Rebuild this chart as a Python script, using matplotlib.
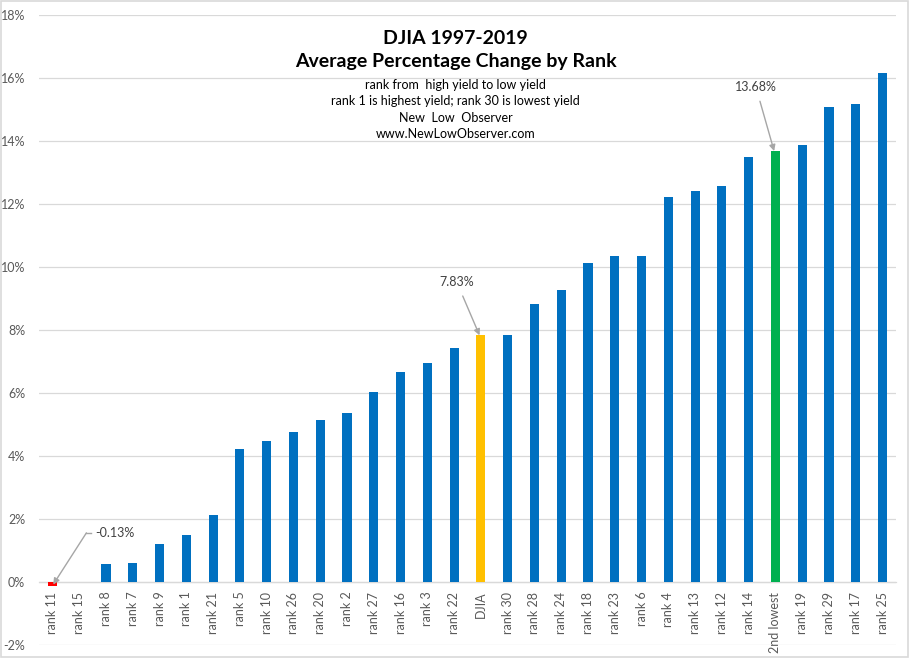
import matplotlib.pyplot as plt
import numpy as np
from matplotlib.patches import Rectangle

plt.rcParams['font.family'] = ['Lato', 'DejaVu Sans']

# Data (average % change, 1997-2019)
labels = ['rank 11', 'rank 15', 'rank 8', 'rank 7', 'rank 9', 'rank 1', 'rank 21',
          'rank 5', 'rank 10', 'rank 26', 'rank 20', 'rank 2', 'rank 27', 'rank 16',
          'rank 3', 'rank 22', 'DJIA', 'rank 30', 'rank 28', 'rank 24', 'rank 18',
          'rank 23', 'rank 6', 'rank 4', 'rank 13', 'rank 12', 'rank 14',
          '2nd lowest', 'rank 19', 'rank 29', 'rank 17', 'rank 25']
values = [-0.13, 0.0, 0.57, 0.60, 1.21, 1.49, 2.13,
          4.22, 4.48, 4.76, 5.14, 5.37, 6.03, 6.67,
          6.95, 7.43, 7.83, 7.84, 8.83, 9.27, 10.13,
          10.35, 10.35, 12.22, 12.41, 12.57, 13.49,
          13.68, 13.87, 15.08, 15.17, 16.16]
yticks = np.arange(-2, 19, 2)

# colour by category
colors = []
for lab, v in zip(labels, values):
    if lab == 'DJIA':
        colors.append('#ffc000')
    elif lab == '2nd lowest':
        colors.append('#00b050')
    elif v < 0:
        colors.append('#ff0000')
    else:
        colors.append('#0070c0')

fig = plt.figure(figsize=(9.11, 6.61), dpi=100)
ax = fig.add_axes([39 / 911, 16 / 661, (896 - 39) / 911, (645 - 15) / 661])

# axis line sits at zero (do this before setting tick labels)
for s in ['top', 'right', 'left']:
    ax.spines[s].set_visible(False)
ax.spines['bottom'].set_position(('data', 0))
ax.spines['bottom'].set_color('#d9d9d9')
ax.spines['bottom'].set_linewidth(0.9)

x = np.arange(len(labels))
ax.bar(x, values, width=0.34, color=colors, zorder=3)

ax.set_xlim(-0.5, len(labels) - 0.5)
ax.set_ylim(-2, 18)
ax.set_yticks(yticks)
ax.set_yticklabels(['%d%%' % t for t in yticks], fontsize=9, color='#595959')
ax.set_xticks(x)
ax.set_xticklabels(labels, rotation=90, fontsize=9, color='#595959')
ax.tick_params(axis='x', length=0, pad=7)
ax.tick_params(axis='y', length=0, pad=10)

ax.grid(axis='y', color='#d9d9d9', linewidth=0.9, zorder=0)

# titles
fig.text(0.5, (661 - 38) / 661, 'DJIA 1997-2019', ha='center',
         va='center', fontsize=14, fontweight='bold')
fig.text(0.5, (661 - 62) / 661, 'Average Percentage Change by Rank',
         ha='center', va='center', fontsize=14, fontweight='bold')
subs = ['rank from  high yield to low yield',
        'rank 1 is highest yield; rank 30 is lowest yield',
        'New  Low  Observer',
        'www.NewLowObserver.com']
for i, s in enumerate(subs):
    fig.text(0.5, (661 - 85 - i * 16.3) / 661, s, ha='center', va='center', fontsize=9)

# callouts
arrow = dict(arrowstyle='-|>', color='#a6a6a6', lw=1, mutation_scale=9, shrinkA=0, shrinkB=0)
i11 = labels.index('rank 11')
ax.annotate('', xy=(i11 + 0.03, -0.08), xytext=(1.27, 1.56), arrowprops=arrow)
ax.plot([1.27, 1.46], [1.56, 1.56], color='#a6a6a6', lw=1)
ax.text(1.6, 1.56, '-0.13%', fontsize=9, color='#404040', va='center', ha='left')

i_dj = labels.index('DJIA')
ax.annotate('%.2f%%' % values[i_dj], xy=(i_dj - 0.05, values[i_dj]), xytext=(i_dj - 0.9, 9.52),
            fontsize=9, color='#404040', ha='center', va='center',
            arrowprops=dict(arrow, shrinkA=4))
i_2l = labels.index('2nd lowest')
ax.annotate('%.2f%%' % values[i_2l], xy=(i_2l - 0.05, values[i_2l]), xytext=(i_2l - 0.73, 15.71),
            fontsize=9, color='#404040', ha='center', va='center',
            arrowprops=dict(arrow, shrinkA=4))

# chart border
fig.patches.append(Rectangle((0.5 / 911, 4 / 661), 907 / 911, 656 / 661,
                             transform=fig.transFigure, fill=False,
                             edgecolor='#d9d9d9', lw=1.2))

fig.savefig('out.png', dpi=100)
